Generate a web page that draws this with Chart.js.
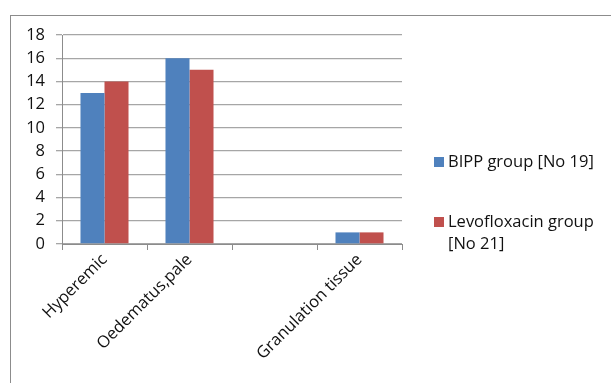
<!DOCTYPE html>
<html>
<head>
<meta charset="utf-8">
<script src="https://cdn.jsdelivr.net/npm/chart.js@4.4.1/dist/chart.umd.min.js"></script>
<style>
  html, body { margin: 0; padding: 0; background: #fff; }
  #wrap { position: relative; width: 611px; height: 383px; overflow: hidden; }
  #frame { position: absolute; left: 10px; top: 15px; width: 620px; height: 400px;
           border: 1px solid #8c8c8c; box-sizing: border-box; }
  canvas { position: absolute; left: 0; top: 0; }
</style>
</head>
<body>
<div id="wrap">
  <div id="frame"></div>
  <canvas id="c" width="611" height="383"></canvas>
</div>
<script>
// Wound appearance counts per group
const categories = ['Hyperemic', 'Oedematus,pale', '', 'Granulation tissue'];
const bippValues = [13, 16, 0, 1];
const levoValues = [14, 15, 0, 1];
const seriesLabels = ['BIPP group [No 19]', ['Levofloxacin group', '[No 21]']];
const seriesColors = ['#4f81bd', '#c0504d'];

const FONT = '"Open Sans", sans-serif';
const TEXT = '#111111';

// Legend on the right, drawn beside the plot (supports wrapped labels)
const sideLegend = {
  id: 'sideLegend',
  afterDraw(chart) {
    const ctx = chart.ctx;
    ctx.save();
    ctx.font = '16.5px ' + FONT;
    ctx.textBaseline = 'middle';
    const x = 434;
    const rows = [162, 222];
    chart.data.datasets.forEach((ds, i) => {
      const y = rows[i];
      ctx.fillStyle = ds.backgroundColor;
      ctx.fillRect(x, y - 5, 10, 10);
      ctx.fillStyle = TEXT;
      const lines = Array.isArray(ds.label) ? ds.label : [ds.label];
      lines.forEach((t, k) => ctx.fillText(t, x + 14, y + k * 22));
    });
    ctx.restore();
  }
};

new Chart(document.getElementById('c'), {
  type: 'bar',
  data: {
    labels: categories,
    datasets: [
      { label: seriesLabels[0], data: bippValues, backgroundColor: seriesColors[0] },
      { label: seriesLabels[1], data: levoValues, backgroundColor: seriesColors[1] }
    ]
  },
  options: {
    responsive: false,
    animation: false,
    layout: { padding: { left: 18, top: 35, right: 209, bottom: 0 } },
    datasets: { bar: { barPercentage: 1.0, categoryPercentage: 0.565, borderWidth: 0 } },
    plugins: {
      legend: { display: false },
      tooltip: { enabled: false }
    },
    scales: {
      x: {
        grid: { display: true, drawOnChartArea: false, offset: true, color: '#8c8c8c', tickLength: 6 },
        border: { color: '#8c8c8c', width: 1 },
        ticks: {
          color: TEXT, font: { family: FONT, size: 16.5 },
          maxRotation: 45, minRotation: 45, autoSkip: false, padding: 0
        },
        afterFit(s) { s.height = 139; }
      },
      y: {
        min: 0, max: 18,
        ticks: { stepSize: 2, color: TEXT, font: { family: FONT, size: 16.5 }, padding: 11 },
        grid: { color: '#a6a6a6', lineWidth: 1.3, tickLength: 6 },
        border: { color: '#8c8c8c', width: 1 },
        afterFit(s) { s.width = 44; }
      }
    }
  },
  plugins: [sideLegend]
});
</script>
</body>
</html>
